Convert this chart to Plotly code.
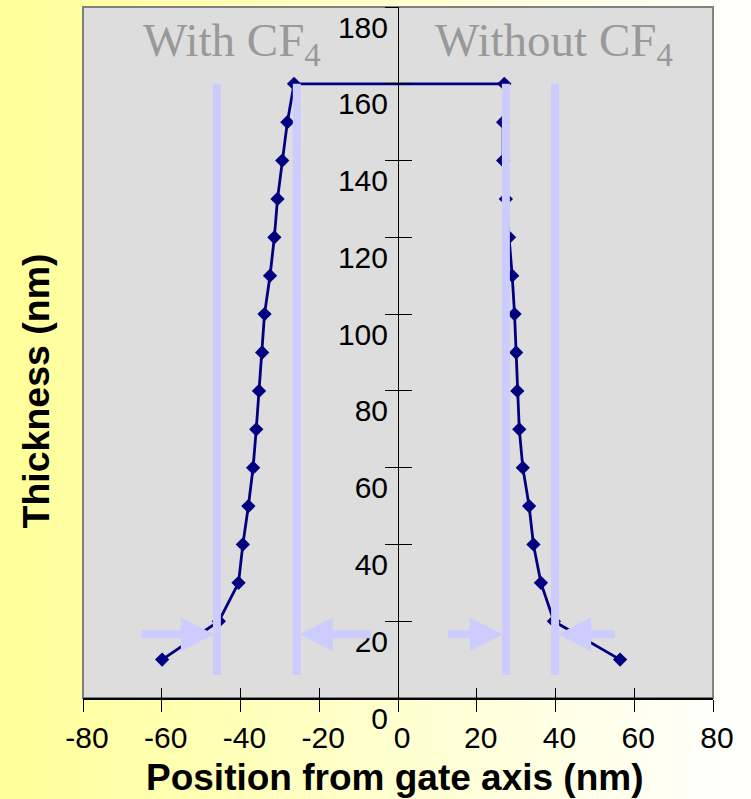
import plotly.graph_objects as go

# Sidewall profile: thickness levels (nm) and edge position from the gate axis (nm)
thickness = [10, 20, 30, 40, 50, 60, 70, 80, 90, 100, 110, 120, 130, 140, 150, 160]
pos_with_cf4 = [-59.9, -45.5, -40.5, -39.4, -38.0, -36.8, -36.0, -35.3,
                -34.5, -33.9, -32.5, -31.4, -30.6, -29.4, -28.1, -26.4]
pos_without_cf4 = [56.4, 39.6, 36.3, 34.4, 33.3, 31.7, 30.8, 30.3,
                   30.0, 29.6, 29.0, 28.2, 27.4, 26.7, 26.7, 27.0]

x_ticks = [-80, -60, -40, -20, 0, 20, 40, 60, 80]
y_ticks = [0, 20, 40, 60, 80, 100, 120, 140, 160, 180]

# Vertical guides marking the edge positions, and the width arrows pointing at them
guide_x = [-46.0, -25.7, 27.4, 39.9]
guide_bottom, guide_top = 6, 160
arrow_y = 16.6
arrow_dir = [1, -1, 1, -1]
arrow_len = [18.4, 18.2, 14.0, 14.4]

panel_labels = ["With CF<sub>4</sub>", "Without CF<sub>4</sub>"]
panel_label_x = [-42.2, 39.6]

NAVY = "#000080"
GUIDE = "#CCCCFF"
SANS = "Arial, Liberation Sans, sans-serif"
SERIF = "Times New Roman, Liberation Serif, serif"

W, H = 751, 799
L, R, T, B = 83, 38, 7, 101
PW, PH = W - L - R, H - T - B


def paper_x(px):
    return (px - L) / PW


def paper_y(py):
    return (H - B - py) / PH


# one continuous outline: up the left sidewall, across the top, down the right sidewall
profile_x = pos_with_cf4 + pos_without_cf4[::-1]
profile_y = thickness + thickness[::-1]

fig = go.Figure()
fig.add_trace(go.Scatter(
    x=profile_x, y=profile_y, mode="lines+markers",
    line=dict(color=NAVY, width=2.8),
    marker=dict(symbol="diamond", size=11, color=NAVY),
    showlegend=False, hoverinfo="x+y",
))
# empty trace that carries the inner half of the crossing tick marks
fig.add_trace(go.Scatter(x=[], y=[], xaxis="x2", yaxis="y2",
                         showlegend=False, hoverinfo="skip"))

shapes = []
# slide background: horizontal yellow-to-white gradient
n_strips = 75
for i in range(n_strips):
    t = (i + 0.5) / n_strips
    blue = round(153 + 102 * t)
    shapes.append(dict(
        type="rect", xref="paper", yref="paper", layer="below",
        x0=paper_x(W * i / n_strips), x1=paper_x(W * (i + 1) / n_strips + 1),
        y0=paper_y(H), y1=paper_y(0),
        fillcolor=f"rgb(255,255,{blue})", line=dict(width=0),
    ))
# grey plotting panel
shapes.append(dict(
    type="rect", xref="paper", yref="paper", layer="below",
    x0=0, x1=1, y0=0, y1=1, fillcolor="#DDDDDD",
    line=dict(color="#808080", width=2),
))
# guide bars
for gx in guide_x:
    shapes.append(dict(
        type="line", xref="x", yref="y", layer="above",
        x0=gx, x1=gx, y0=guide_bottom, y1=guide_top,
        line=dict(color=GUIDE, width=8),
    ))
# block arrows
head_len, head_half, shaft_half = 8.4, 4.4, 1.04
for gx, d, ln in zip(guide_x, arrow_dir, arrow_len):
    tip = gx - d * 0.75
    base = tip - d * head_len
    tail = tip - d * ln
    y = arrow_y
    path = (f"M {tail},{y - shaft_half} L {base},{y - shaft_half} "
            f"L {base},{y - head_half} L {tip},{y} L {base},{y + head_half} "
            f"L {base},{y + shaft_half} L {tail},{y + shaft_half} Z")
    shapes.append(dict(type="path", xref="x", yref="y", layer="above",
                       path=path, fillcolor=GUIDE, line=dict(width=0)))

annotations = []
for txt, lx in zip(panel_labels, panel_label_x):
    annotations.append(dict(
        text=txt, x=lx, xref="x", y=paper_y(44), yref="paper",
        xanchor="center", yanchor="middle", showarrow=False,
        font=dict(family=SERIF, size=47, color="#999999"),
    ))
annotations.append(dict(
    text="<b>Position from gate axis (nm)</b>",
    x=paper_x(394.5), y=paper_y(777), xref="paper", yref="paper",
    xanchor="center", yanchor="middle", showarrow=False,
    font=dict(family=SANS, size=37, color="black"),
))
annotations.append(dict(
    text="<b>Thickness (nm)</b>", textangle=-90,
    x=paper_x(36), y=paper_y(391.5), xref="paper", yref="paper",
    xanchor="center", yanchor="middle", showarrow=False,
    font=dict(family=SANS, size=37.5, color="black"),
))

tick_font = dict(family=SANS, size=30, color="black")

fig.update_layout(
    width=W, height=H, autosize=False,
    margin=dict(l=L, r=R, t=T, b=B, pad=0),
    paper_bgcolor="white", plot_bgcolor="rgba(0,0,0,0)",
    shapes=shapes, annotations=annotations,
    xaxis=dict(
        range=[-80, 80], tickvals=x_ticks, ticktext=[str(v) for v in x_ticks],
        ticks="outside", ticklen=12, tickwidth=1, tickcolor="black",
        showline=True, linecolor="black", linewidth=1.5,
        showgrid=False, zeroline=False, tickfont=tick_font,
        ticklabelshift=4, fixedrange=True,
    ),
    yaxis=dict(
        range=[0, 180], tickvals=y_ticks, ticktext=[str(v) for v in y_ticks],
        anchor="free", position=0.5,
        ticks="outside", ticklen=13, tickwidth=1, tickcolor="black",
        showline=True, linecolor="black", linewidth=1,
        showgrid=False, zeroline=False, tickfont=tick_font,
        ticklabelshift=20, ticklabelstandoff=-9, fixedrange=True,
    ),
    xaxis2=dict(
        overlaying="x", anchor="y2", range=[-80, 80], tickvals=x_ticks,
        ticks="inside", ticklen=10, tickwidth=1, tickcolor="black",
        showticklabels=False, showline=False, showgrid=False, zeroline=False,
        fixedrange=True,
    ),
    yaxis2=dict(
        overlaying="y", anchor="free", position=0.5, range=[0, 180],
        tickvals=y_ticks, ticks="inside", ticklen=13, tickwidth=1,
        tickcolor="black", showticklabels=False, showline=False,
        showgrid=False, zeroline=False, fixedrange=True,
    ),
)

fig.write_html("out.html")
